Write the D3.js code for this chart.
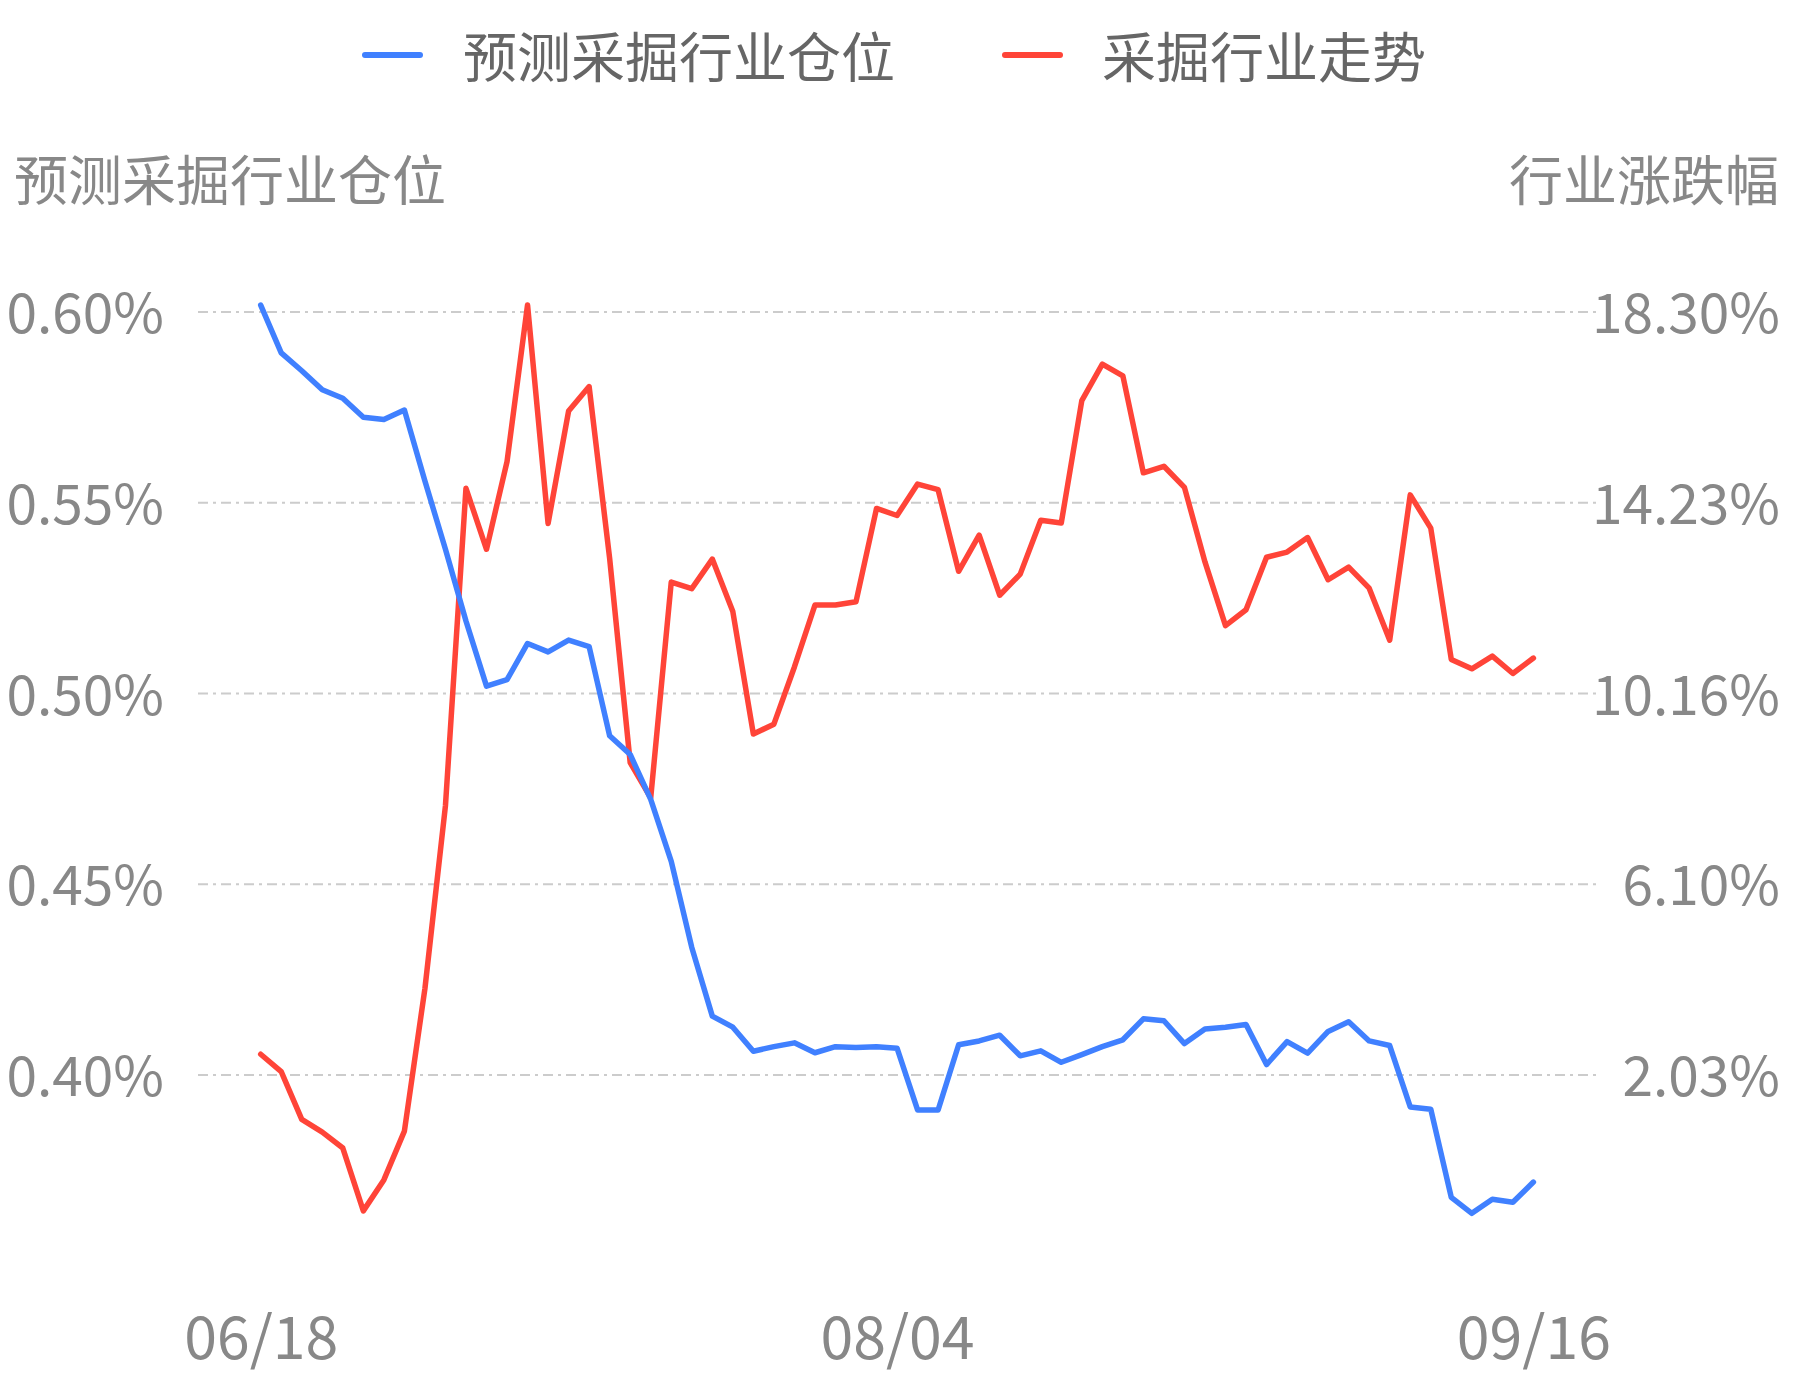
<!DOCTYPE html>
<html>
<head>
<meta charset="utf-8">
<script src="https://cdn.jsdelivr.net/npm/d3@7/dist/d3.min.js"></script>
<style>
  html, body { margin: 0; padding: 0; background: #ffffff; }
  svg { display: block; }
</style>
</head>
<body>
<svg id="chart" width="1793" height="1380"></svg>
<script>
// ---------- data ----------
const dates = [
  "06/18","06/19","06/22","06/23","06/24","06/29","06/30",
  "07/01","07/02","07/03","07/06","07/07","07/08","07/09","07/10",
  "07/13","07/14","07/15","07/16","07/17","07/20","07/21","07/22","07/23","07/24",
  "07/27","07/28","07/29","07/30","07/31",
  "08/03","08/04","08/05","08/06","08/07","08/10","08/11","08/12","08/13","08/14",
  "08/17","08/18","08/19","08/20","08/21","08/24","08/25","08/26","08/27","08/28",
  "08/31","09/01","09/02","09/03","09/04","09/07","09/08","09/09","09/10","09/11",
  "09/14","09/15","09/16"
];
const xTickLabels = ["06/18", "08/04", "09/16"];

// 预测采掘行业仓位 (%), left axis
const positionValues = [
  0.6018, 0.5893, 0.5846, 0.5796, 0.5774, 0.5724, 0.5718, 0.5743, 0.5557, 0.5378,
  0.5190, 0.5019, 0.5036, 0.5131, 0.5109, 0.5140, 0.5123, 0.4889, 0.4840, 0.4722,
  0.4560, 0.4334, 0.4154, 0.4125, 0.4062, 0.4074, 0.4084, 0.4058, 0.4074, 0.4072,
  0.4074, 0.4070, 0.3908, 0.3908, 0.4079, 0.4089, 0.4104, 0.4050, 0.4063, 0.4033,
  0.4053, 0.4074, 0.4092, 0.4147, 0.4142, 0.4082, 0.4120, 0.4125, 0.4132, 0.4027,
  0.4087, 0.4057, 0.4114, 0.4139, 0.4089, 0.4077, 0.3916, 0.3910, 0.3679, 0.3637,
  0.3674, 0.3666, 0.3719
];
// 采掘行业走势 (%), right axis
const trendValues = [
  2.47, 2.10, 1.08, 0.81, 0.47, -0.87, -0.21, 0.83, 3.87, 7.77,
  14.54, 13.24, 15.11, 18.45, 13.79, 16.19, 16.71, 13.04, 8.69, 7.94,
  12.54, 12.40, 13.03, 11.91, 9.30, 9.51, 10.73, 12.05, 12.05, 12.12,
  14.11, 13.96, 14.63, 14.51, 12.77, 13.54, 12.26, 12.71, 13.86, 13.80,
  16.41, 17.19, 16.94, 14.87, 15.01, 14.56, 12.97, 11.61, 11.95, 13.07,
  13.18, 13.49, 12.59, 12.86, 12.41, 11.30, 14.40, 13.69, 10.89, 10.69,
  10.96, 10.59, 10.92
];

const leftTicks = [0.40, 0.45, 0.50, 0.55, 0.60];
const leftTickLabels = ["0.40%", "0.45%", "0.50%", "0.55%", "0.60%"];
const rightTicks = [2.03, 6.10, 10.16, 14.23, 18.30];
const rightTickLabels = ["2.03%", "6.10%", "10.16%", "14.23%", "18.30%"];
const leftDomain = [0.35, 0.60];
const rightDomain = [-2.0375, 18.30];

const seriesNames = ["预测采掘行业仓位", "采掘行业走势"];
const leftAxisTitle = "预测采掘行业仓位";
const rightAxisTitle = "行业涨跌幅";

// ---------- styles ----------
const BLUE = "#4080ff";
const RED = "#ff4438";
const FONT = "'Noto Sans CJK SC', 'Noto Sans', sans-serif";

const svg = d3.select("#chart");
svg.append("rect").attr("width", 1793).attr("height", 1380).attr("fill", "#fff");

const plot = { left: 198, right: 1597, top: 312, bottom: 1265.6 };

const x = d3.scalePoint().domain(dates).range([260.7, 1533.4]);
const yL = d3.scaleLinear().domain(leftDomain).range([plot.bottom, plot.top]);
const yR = d3.scaleLinear().domain(rightDomain).range([plot.bottom, plot.top]);

// grid lines
svg.append("g").selectAll("line").data(leftTicks).join("line")
  .attr("x1", plot.left).attr("x2", plot.right)
  .attr("y1", d => yL(d)).attr("y2", d => yL(d))
  .attr("stroke", "#cccccc").attr("stroke-width", 2)
  .attr("stroke-dasharray", "10,5,3,5");

// left axis labels
const leftAxis = d3.axisLeft(yL).tickValues(leftTicks)
  .tickFormat((d, i) => leftTickLabels[i]).tickSize(0).tickPadding(0);
const gL = svg.append("g").attr("transform", "translate(164,0)").call(leftAxis);
gL.select(".domain").remove();
gL.selectAll("text").attr("font-family", FONT).attr("font-size", 55)
  .attr("fill", "#888888").attr("dy", "-0.06em")
  .attr("dominant-baseline", "central");

// right axis labels (right aligned)
const rightAxis = d3.axisRight(yR).tickValues(rightTicks)
  .tickFormat((d, i) => rightTickLabels[i]).tickSize(0).tickPadding(0);
const gR = svg.append("g").attr("transform", "translate(1780,0)").call(rightAxis);
gR.select(".domain").remove();
gR.selectAll("text").attr("font-family", FONT).attr("font-size", 55)
  .attr("fill", "#888888").attr("text-anchor", "end").attr("dy", "-0.06em")
  .attr("dominant-baseline", "central");

// x axis labels
const xAxis = d3.axisBottom(x).tickValues(xTickLabels).tickSize(0).tickPadding(0);
const gX = svg.append("g").attr("transform", "translate(0,1333)").call(xAxis);
gX.select(".domain").remove();
gX.selectAll("text").attr("font-family", FONT).attr("font-size", 59)
  .attr("fill", "#888888").attr("dy", null).attr("y", 0)
  .attr("dominant-baseline", "central");

// axis titles
svg.append("text").attr("x", 14).attr("y", 177)
  .attr("font-family", FONT).attr("font-size", 54).attr("fill", "#888888")
  .attr("dominant-baseline", "central").text(leftAxisTitle);
svg.append("text").attr("x", 1779).attr("y", 177).attr("text-anchor", "end")
  .attr("font-family", FONT).attr("font-size", 54).attr("fill", "#888888")
  .attr("dominant-baseline", "central").text(rightAxisTitle);

// lines
const lineR = d3.line().x((d, i) => x(dates[i])).y(d => yR(d));
const lineL = d3.line().x((d, i) => x(dates[i])).y(d => yL(d));

svg.append("path").datum(trendValues).attr("d", lineR)
  .attr("fill", "none").attr("stroke", RED).attr("stroke-width", 5.5)
  .attr("stroke-linejoin", "round").attr("stroke-linecap", "round");
svg.append("path").datum(positionValues).attr("d", lineL)
  .attr("fill", "none").attr("stroke", BLUE).attr("stroke-width", 5.5)
  .attr("stroke-linejoin", "round").attr("stroke-linecap", "round");

// legend
const legendItems = [
  { name: seriesNames[0], color: BLUE, x0: 365, x1: 420, tx: 463 },
  { name: seriesNames[1], color: RED, x0: 1005, x1: 1060, tx: 1102 }
];
const lg = svg.append("g");
legendItems.forEach(it => {
  lg.append("line").attr("x1", it.x0).attr("x2", it.x1).attr("y1", 55).attr("y2", 55)
    .attr("stroke", it.color).attr("stroke-width", 6).attr("stroke-linecap", "round");
  lg.append("text").attr("x", it.tx).attr("y", 54)
    .attr("font-family", FONT).attr("font-size", 54).attr("fill", "#666666")
    .attr("dominant-baseline", "central").text(it.name);
});
</script>
</body>
</html>
